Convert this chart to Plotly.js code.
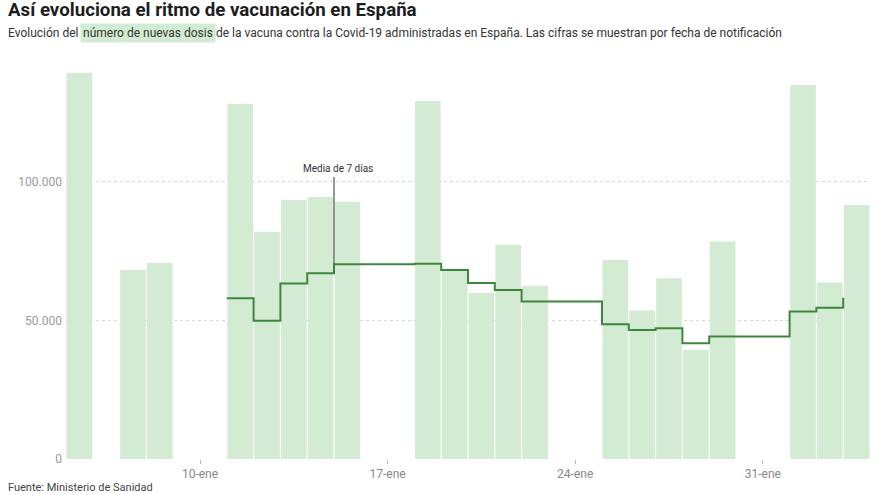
<!DOCTYPE html>
<html>
<head>
<meta charset="utf-8">
<script src="https://cdn.plot.ly/plotly-3.0.1.min.js"></script>
<style>html,body{margin:0;padding:0;background:#fff;}#chart{width:880px;height:495px;}</style>
</head>
<body>
<div id="chart"></div>
<script>
// Daily new doses (bars)
const barDates = ['2021-01-05','2021-01-07','2021-01-08','2021-01-11','2021-01-12','2021-01-13','2021-01-14','2021-01-15','2021-01-18','2021-01-19','2021-01-20','2021-01-21','2021-01-22','2021-01-25','2021-01-26','2021-01-27','2021-01-28','2021-01-29','2021-02-01','2021-02-02','2021-02-03'];
const barValues = [139400, 68200, 70800, 128200, 82000, 93500, 94600, 92800, 129200, 68000, 59900, 77300, 62500, 71800, 53600, 65200, 39400, 78500, 135000, 63700, 91700];

// 7-day average (step line)
const avgDates = ['2021-01-11','2021-01-12','2021-01-13','2021-01-14','2021-01-15','2021-01-18','2021-01-19','2021-01-20','2021-01-21','2021-01-22','2021-01-25','2021-01-26','2021-01-27','2021-01-28','2021-01-29','2021-02-01','2021-02-02','2021-02-03'];
const avgValues = [58000, 49900, 63300, 67000, 70300, 70500, 68200, 63500, 61000, 56800, 48600, 46600, 47200, 41800, 44200, 53200, 54600, 58200];

// Axis ticks
const xTickVals = ['2021-01-10','2021-01-17','2021-01-24','2021-01-31'];
const xTickText = ['10-ene','17-ene','24-ene','31-ene'];
const yTickVals = [0, 50000, 100000];

const DAY = 86400000;
const L = 66, R = 10, T = 60, B = 36, W = 880, H = 495;
const pw = W - L - R, ph = H - T - B;
const px = p => (p - L) / pw;
const py = q => (H - B - q) / ph;

const FONT = 'Roboto, "Open Sans", sans-serif';

const traces = [
  {
    type: 'bar',
    x: barDates,
    y: barValues,
    xperiod: DAY,
    xperiodalignment: 'middle',
    width: DAY * 0.96,
    marker: {color: '#d4ebd3', line: {width: 0}},
    hoverinfo: 'skip'
  },
  {
    type: 'scatter',
    mode: 'lines',
    x: avgDates,
    y: avgValues,
    line: {shape: 'hv', color: '#3c873c', width: 2},
    hoverinfo: 'skip'
  }
];

const layout = {
  width: W, height: H,
  margin: {l: L, r: R, t: T, b: B, pad: 0},
  paper_bgcolor: '#ffffff',
  plot_bgcolor: '#ffffff',
  showlegend: false,
  separators: ',.',
  font: {family: FONT, color: '#333'},
  xaxis: {
    type: 'date',
    range: ['2021-01-05', '2021-02-04'],
    tickvals: xTickVals,
    ticktext: xTickText,
    showgrid: false,
    zeroline: false,
    showline: false,
    ticks: 'outside',
    ticklen: 4,
    tickwidth: 1,
    tickcolor: '#bbbbbb',
    tickfont: {family: FONT, size: 12, color: '#888888'}
  },
  yaxis: {
    range: [0, 144000],
    tickvals: yTickVals,
    tickformat: ',d',
    showgrid: true,
    gridcolor: '#d8d8d8',
    griddash: 'dot',
    gridwidth: 1,
    zeroline: false,
    showline: false,
    ticks: '',
    ticklabelstandoff: 3,
    tickfont: {family: FONT, size: 12, color: '#999999'}
  },
  shapes: [
    {
      type: 'line', xref: 'x', yref: 'y',
      x0: '2021-01-15', x1: '2021-01-15',
      y0: 70300, y1: 101800,
      line: {color: '#555555', width: 1.2},
      layer: 'above'
    }
  ],
  annotations: [
    {
      text: '<b>Así evoluciona el ritmo de vacunación en España</b>',
      xref: 'paper', yref: 'paper', x: px(6), y: py(10),
      xanchor: 'left', yanchor: 'middle', showarrow: false,
      font: {family: FONT, size: 18.7, color: '#1d1d1d'}
    },
    {
      text: 'Evolución del',
      xref: 'paper', yref: 'paper', x: px(6), y: py(33),
      xanchor: 'left', yanchor: 'middle', showarrow: false,
      font: {family: FONT, size: 12, color: '#333333'}
    },
    {
      text: 'número de nuevas dosis',
      xref: 'paper', yref: 'paper', x: px(80), y: py(33),
      xanchor: 'left', yanchor: 'middle', showarrow: false,
      bgcolor: '#d4ebd3', borderpad: 2,
      font: {family: FONT, size: 12, color: '#333333'}
    },
    {
      text: 'de la vacuna contra la Covid-19 administradas en España. Las cifras se muestran por fecha de notificación',
      xref: 'paper', yref: 'paper', x: px(214), y: py(33),
      xanchor: 'left', yanchor: 'middle', showarrow: false,
      font: {family: FONT, size: 12, color: '#333333'}
    },
    {
      text: 'Media de 7 días',
      xref: 'x', yref: 'y', x: '2021-01-15 04:00', y: 105000,
      xanchor: 'center', yanchor: 'middle', showarrow: false,
      font: {family: FONT, size: 10, color: '#333333'}
    },
    {
      text: 'Fuente: Ministerio de Sanidad',
      xref: 'paper', yref: 'paper', x: px(6), y: py(487),
      xanchor: 'left', yanchor: 'middle', showarrow: false,
      font: {family: FONT, size: 11, color: '#444444'}
    }
  ]
};

Plotly.newPlot('chart', traces, layout, {displayModeBar: false, staticPlot: true});
</script>
</body>
</html>
